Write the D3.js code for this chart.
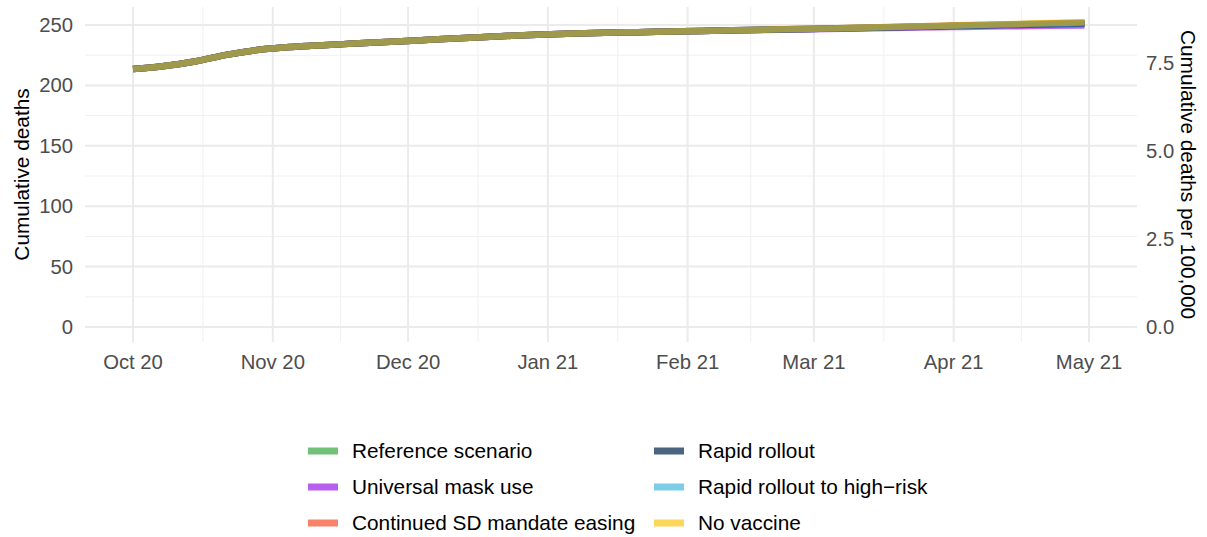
<!DOCTYPE html>
<html>
<head>
<meta charset="utf-8">
<script src="https://cdn.jsdelivr.net/npm/d3@7"></script>
<style>
  body { margin: 0; background: #fff; }
  svg { display: block; font-family: "Liberation Sans", Arial, sans-serif; }
  .tick-label { fill: #4d4d4d; font-size: 20.3px; }
  .axis-title { fill: #000; font-size: 20.8px; }
  .legend-label { fill: #000; font-size: 20.8px; }
</style>
</head>
<body>
<svg width="1207" height="537"></svg>
<script>
// weekly dates, Oct 2020 - Apr 2021
var dates = ['2020-10-01','2020-10-08','2020-10-15','2020-10-22','2020-10-29',
    '2020-11-05','2020-11-12','2020-11-19','2020-11-26','2020-12-03','2020-12-10',
    '2020-12-17','2020-12-24','2020-12-31','2021-01-07','2021-01-14','2021-01-21',
    '2021-01-28','2021-02-04','2021-02-11','2021-02-18','2021-02-25','2021-03-04',
    '2021-03-11','2021-03-18','2021-03-25','2021-04-01','2021-04-08','2021-04-15',
    '2021-04-22','2021-04-30'];

// cumulative deaths per scenario
var reference = [213.5,216,220,225.5,229.5,231.8,233.3,234.6,235.9,237.2,238.6,
    239.9,241.1,242.2,243.0,243.6,244.1,244.6,245.1,245.6,246.1,246.6,247.1,
    247.6,248.2,248.8,249.4,250.0,250.6,251.1,251.6];
var mask = [213.5,216,220,225.5,229.5,231.8,233.3,234.6,235.9,237.2,238.6,
    239.9,241.1,242.2,243.0,243.6,244.1,244.6,245.1,245.5,245.9,246.3,246.7,
    247.1,247.5,247.9,248.3,248.7,249.0,249.3,249.6];
var sdEasing = [213.5,216,220,225.5,229.5,231.8,233.3,234.6,235.9,237.2,238.6,
    239.9,241.1,242.2,243.0,243.6,244.1,244.6,245.1,245.6,246.1,246.6,247.1,
    247.7,248.3,248.9,249.5,250.1,250.7,251.3,251.8];
var rapid = [213.5,216,220,225.5,229.5,231.8,233.3,234.6,235.9,237.2,238.6,
    239.9,241.1,242.2,243.0,243.6,244.1,244.6,245.1,245.6,246.0,246.5,247.0,
    247.5,248.0,248.5,249.1,249.6,250.1,250.6,251.0];
var rapidHighRisk = [213.5,216,220,225.5,229.5,231.8,233.3,234.6,235.9,237.2,238.6,
    239.9,241.1,242.2,243.0,243.6,244.1,244.6,245.1,245.6,246.0,246.5,247.0,
    247.5,248.1,248.6,249.2,249.7,250.3,250.8,251.2];
var noVaccine = [213.5,216,220,225.5,229.5,231.8,233.3,234.6,235.9,237.2,238.6,
    239.9,241.1,242.2,243.0,243.6,244.1,244.6,245.1,245.6,246.1,246.7,247.2,
    247.8,248.4,249.0,249.6,250.3,250.9,251.6,252.2];

var scenarioNames = ['Reference scenario','Universal mask use','Continued SD mandate easing',
    'Rapid rollout','Rapid rollout to high\u2212risk','No vaccine'];
// line colours (drawn with alpha, they stack up to the olive tone)
var lineColors = ['#179d1b','#9300e6','#e62b00','#000026','#28a3d9','#e6b919'];
// legend key colours as they appear
var keyColors = ['#71c179','#b95ff0','#f88368','#4b6480','#7dcde8','#fcd75a'];
var scenarioValues = [reference, mask, sdEasing, rapid, rapidHighRisk, noVaccine];

var monthTicks = ['2020-10-01','2020-11-01','2020-12-01','2021-01-01','2021-02-01',
    '2021-03-01','2021-04-01','2021-05-01'];
var deathTicks = [0, 50, 100, 150, 200, 250];
var per100kTicks = [0, 2.5, 5, 7.5];
var population = 2913314;

var parseDate = d3.utcParse('%Y-%m-%d');
var svg = d3.select('svg');

// panel edges
var panel = {l: 85, r: 1137, t: 7, b: 342};
var lineAlpha = 0.6;

var x = d3.scaleUtc()
    .domain([parseDate('2020-10-01'), parseDate('2021-05-01')])
    .range([133, 1089]);
var y = d3.scaleLinear().domain([0, 250]).range([327, 25]);
var y2 = d3.scaleLinear()
    .domain([0, 250 * 100000 / population])
    .range([327, 25]);

var grid = svg.append('g');
// minor x gridlines: halfway between months
var monthDates = monthTicks.map(parseDate);
for (var i = 0; i < monthDates.length - 1; i++) {
    var mx = (x(monthDates[i]) + x(monthDates[i + 1])) / 2;
    grid.append('line').attr('x1', mx).attr('x2', mx)
        .attr('y1', panel.t).attr('y2', panel.b)
        .attr('stroke', '#f0f0f0').attr('stroke-width', 1);
}
// minor y gridlines
deathTicks.slice(0, -1).forEach(function(d) {
    grid.append('line').attr('x1', panel.l).attr('x2', panel.r)
        .attr('y1', y(d + 25)).attr('y2', y(d + 25))
        .attr('stroke', '#f0f0f0').attr('stroke-width', 1);
});
monthDates.forEach(function(d) {
    grid.append('line').attr('x1', x(d)).attr('x2', x(d))
        .attr('y1', panel.t).attr('y2', panel.b)
        .attr('stroke', '#ebebeb').attr('stroke-width', 2);
});
deathTicks.forEach(function(d) {
    grid.append('line').attr('x1', panel.l).attr('x2', panel.r)
        .attr('y1', y(d)).attr('y2', y(d))
        .attr('stroke', '#ebebeb').attr('stroke-width', 2);
});

// axis labels
var fmtMonth = d3.utcFormat('%b %y');
svg.append('g').selectAll('text').data(monthDates).enter().append('text')
    .attr('class', 'tick-label')
    .attr('x', function(d) { return x(d); })
    .attr('y', 369)
    .attr('text-anchor', 'middle')
    .text(function(d) { return fmtMonth(d); });

svg.append('g').selectAll('text').data(deathTicks).enter().append('text')
    .attr('class', 'tick-label')
    .attr('x', 73)
    .attr('y', function(d) { return y(d) + 7; })
    .attr('text-anchor', 'end')
    .text(function(d) { return d; });

svg.append('g').selectAll('text').data(per100kTicks).enter().append('text')
    .attr('class', 'tick-label')
    .attr('x', 1146)
    .attr('y', function(d) { return y2(d) + 7; })
    .text(function(d) { return d3.format('.1f')(d); });

svg.append('text').attr('class', 'axis-title')
    .attr('transform', 'translate(' + [29, (panel.t + panel.b) / 2] + ') rotate(-90)')
    .attr('text-anchor', 'middle')
    .text('Cumulative deaths');
svg.append('text').attr('class', 'axis-title')
    .attr('transform', 'translate(' + [1181, (panel.t + panel.b) / 2] + ') rotate(90)')
    .attr('text-anchor', 'middle')
    .text('Cumulative deaths per 100,000');

// lines
var line = d3.line()
    .x(function(d) { return x(d.date); })
    .y(function(d) { return y(d.value); })
    .curve(d3.curveMonotoneX);

scenarioValues.forEach(function(vals, k) {
    var pts = vals.map(function(v, i) { return {date: parseDate(dates[i]), value: v}; });
    svg.append('path')
        .datum(pts)
        .attr('d', line)
        .attr('fill', 'none')
        .attr('stroke', lineColors[k])
        .attr('stroke-opacity', lineAlpha)
        .attr('stroke-width', 6.5);
});

// legend: 2 columns, filled column-wise
var legend = svg.append('g');
scenarioNames.forEach(function(name, k) {
    var col = Math.floor(k / 3), row = k % 3;
    var lx = 308 + col * 346, ly = 451 + row * 36;
    legend.append('rect')
        .attr('x', lx).attr('y', ly - 3.5)
        .attr('width', 30).attr('height', 7)
        .attr('fill', keyColors[k]);
    legend.append('text').attr('class', 'legend-label')
        .attr('x', lx + 44).attr('y', ly + 7)
        .text(name);
});
</script>
</body>
</html>
